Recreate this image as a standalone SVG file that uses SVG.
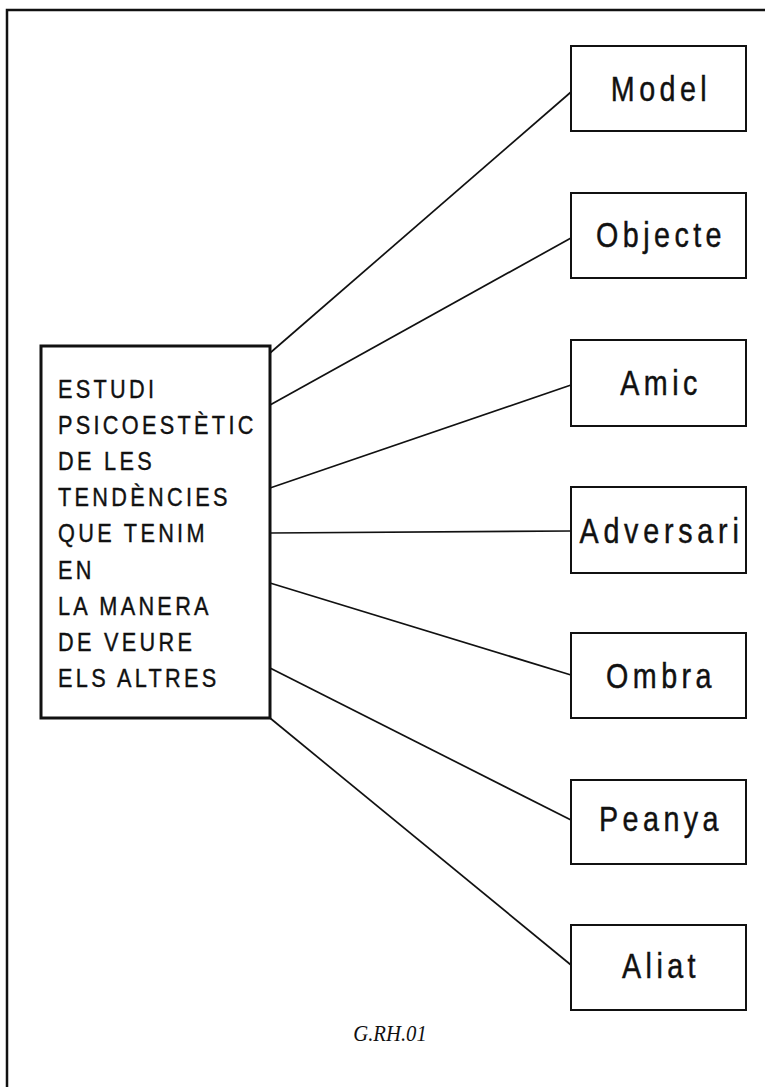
<svg xmlns="http://www.w3.org/2000/svg" width="765" height="1087" viewBox="0 0 765 1087">
<style>
.bg{fill:#fff}
.frame{fill:none;stroke:#111;stroke-width:2.5}
.box{fill:#fff;stroke:#111;stroke-width:2}
.main{fill:#fff;stroke:#111;stroke-width:3}
.lbl{font-family:"Liberation Sans",Arial,sans-serif;font-size:35px;letter-spacing:5.4px;fill:#111;stroke:#111;stroke-width:0.45;text-anchor:middle}
.mt{font-family:"Liberation Sans",Arial,sans-serif;font-size:25.5px;letter-spacing:3.9px;fill:#111;stroke:#111;stroke-width:0.4}
.con line{stroke:#111;stroke-width:1.7}
.cap{font-family:"Liberation Serif","Times New Roman",serif;font-style:italic;font-size:23px;fill:#111;text-anchor:middle}
</style>
<rect class="bg" x="0" y="0" width="765" height="1087"/>
<path class="frame" d="M7,1087 V10 H765"/>
<g id="connectors" class="con">
<line x1="270" y1="353" x2="571" y2="92"/>
<line x1="270" y1="405" x2="571" y2="238"/>
<line x1="270" y1="488" x2="571" y2="385"/>
<line x1="270" y1="533" x2="571" y2="531"/>
<line x1="270" y1="583" x2="571" y2="675"/>
<line x1="270" y1="668" x2="571" y2="820"/>
<line x1="270" y1="718" x2="571" y2="965"/>
</g>
<g id="estudi">
<rect class="main" x="41" y="346" width="229" height="372"/>
<text class="mt" transform="translate(58,398) scale(0.85,1)">ESTUDI</text>
<text class="mt" transform="translate(58,434) scale(0.85,1)">PSICOESTÈTIC</text>
<text class="mt" transform="translate(58,470) scale(0.85,1)">DE LES</text>
<text class="mt" transform="translate(58,506) scale(0.85,1)">TENDÈNCIES</text>
<text class="mt" transform="translate(58,542) scale(0.85,1)">QUE TENIM</text>
<text class="mt" transform="translate(58,579) scale(0.85,1)">EN</text>
<text class="mt" transform="translate(58,615) scale(0.85,1)">LA MANERA</text>
<text class="mt" transform="translate(58,651) scale(0.85,1)">DE VEURE</text>
<text class="mt" transform="translate(58,687) scale(0.85,1)">ELS ALTRES</text>
</g>
<g id="model"><rect class="box" x="571" y="46" width="175" height="85"/><text class="lbl" transform="translate(661,101) scale(0.82,1)">Model</text></g>
<g id="objecte"><rect class="box" x="571" y="193" width="175" height="85"/><text class="lbl" transform="translate(661,247) scale(0.82,1)">Objecte</text></g>
<g id="amic"><rect class="box" x="571" y="340" width="175" height="86"/><text class="lbl" transform="translate(661,395) scale(0.82,1)">Amic</text></g>
<g id="adversari"><rect class="box" x="571" y="487" width="175" height="86"/><text class="lbl" transform="translate(661.5,543) scale(0.82,1)" style="letter-spacing:5.8px">Adversari</text></g>
<g id="ombra"><rect class="box" x="571" y="633" width="175" height="85"/><text class="lbl" transform="translate(661,688) scale(0.82,1)">Ombra</text></g>
<g id="peanya"><rect class="box" x="571" y="780" width="175" height="84"/><text class="lbl" transform="translate(661,831) scale(0.82,1)">Peanya</text></g>
<g id="aliat"><rect class="box" x="571" y="925" width="175" height="85"/><text class="lbl" transform="translate(661,978) scale(0.82,1)">Aliat</text></g>
<text class="cap" transform="translate(390,1041) scale(0.9,1)">G.RH.01</text>
</svg>
